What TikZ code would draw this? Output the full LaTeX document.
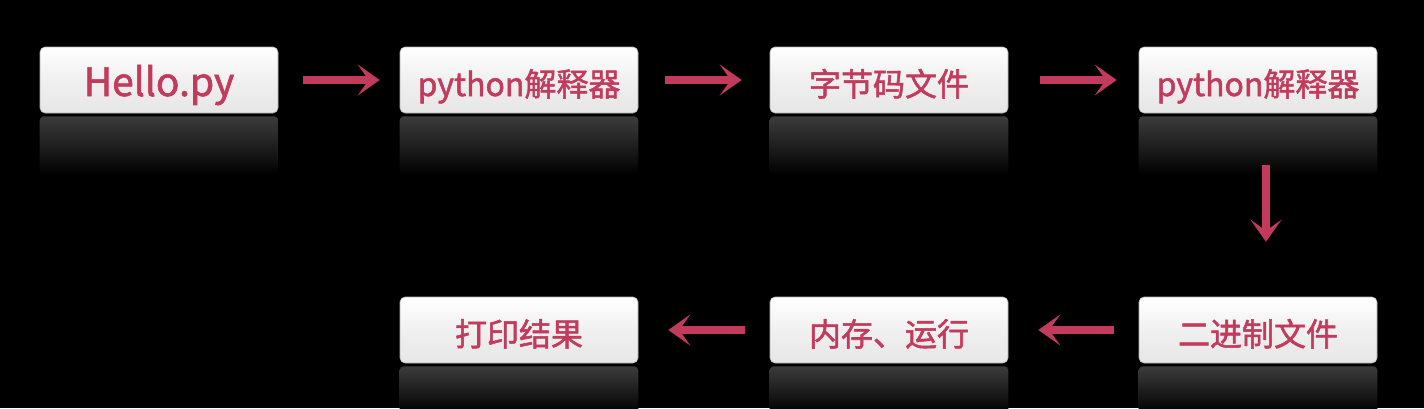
\documentclass[tikz,border=0pt]{standalone}
\usepackage{fontspec}
\setmainfont{Noto Sans CJK SC}[FakeBold=1.6]
\usetikzlibrary{arrows.meta,positioning}
\definecolor{crim}{HTML}{C23A5C}
\definecolor{boxtop}{HTML}{FFFFFF}
\definecolor{boxmid}{HTML}{E6E6E6}
\definecolor{refl}{HTML}{3C3C3C}
\tikzset{
  flowbox/.style={rounded corners=5pt, minimum width=238pt, minimum height=66pt,
    inner sep=0pt, text height=34pt, text depth=2pt,
    top color=boxtop, bottom color=boxmid, middle color=boxmid!60!white,
    draw=gray!60, line width=0.6pt, text=crim, font=\fontsize{32}{36}\selectfont},
  bigtext/.style={font=\fontsize{39}{42}\selectfont},
  flowarrow/.style={draw=crim, line width=8pt, -{Stealth[length=22pt,width=31pt,inset=11pt]}},
}
\newcommand{\reflect}[2]{%
  \shade[top color=refl, bottom color=black, rounded corners=4pt]
    ([yshift=-3pt]#1.south west) rectangle ([yshift=-#2]#1.south east);}
\begin{document}
\begin{tikzpicture}[x=1pt,y=-1pt]
\fill[black] (0,0) rectangle (1424,408);
\useasboundingbox (0,0) rectangle (1424,408);
% top row
\node[flowbox,bigtext] (a) at (159,80) {Hello.py};
\node[flowbox] (b) at (519,80) {python解释器};
\node[flowbox] (c) at (889,80) {字节码文件};
\node[flowbox] (d) at (1258,80) {python解释器};
% bottom row
\node[flowbox] (e) at (1258,330) {二进制文件};
\node[flowbox] (f) at (889,330) {内存、运行};
\node[flowbox] (g) at (519,330) {打印结果};
% reflections
\reflect{a}{62pt}
\reflect{b}{62pt}
\reflect{c}{62pt}
\reflect{d}{62pt}
\reflect{e}{50pt}
\reflect{f}{50pt}
\reflect{g}{50pt}
% arrows
\draw[flowarrow] ([xshift=25pt]a.east) -- ([xshift=-20pt]b.west);
\draw[flowarrow] ([xshift=27pt]b.east) -- ([xshift=-28pt]c.west);
\draw[flowarrow] ([xshift=32pt]c.east) -- ([xshift=-22pt]d.west);
\draw[flowarrow] ([xshift=8pt,yshift=-52pt]d.south) -- ([xshift=8pt,yshift=55pt]e.north);
\draw[flowarrow] ([xshift=-25pt]e.west) -- ([xshift=30pt]f.east);
\draw[flowarrow] ([xshift=-25pt]f.west) -- ([xshift=30pt]g.east);
\end{tikzpicture}
\end{document}
